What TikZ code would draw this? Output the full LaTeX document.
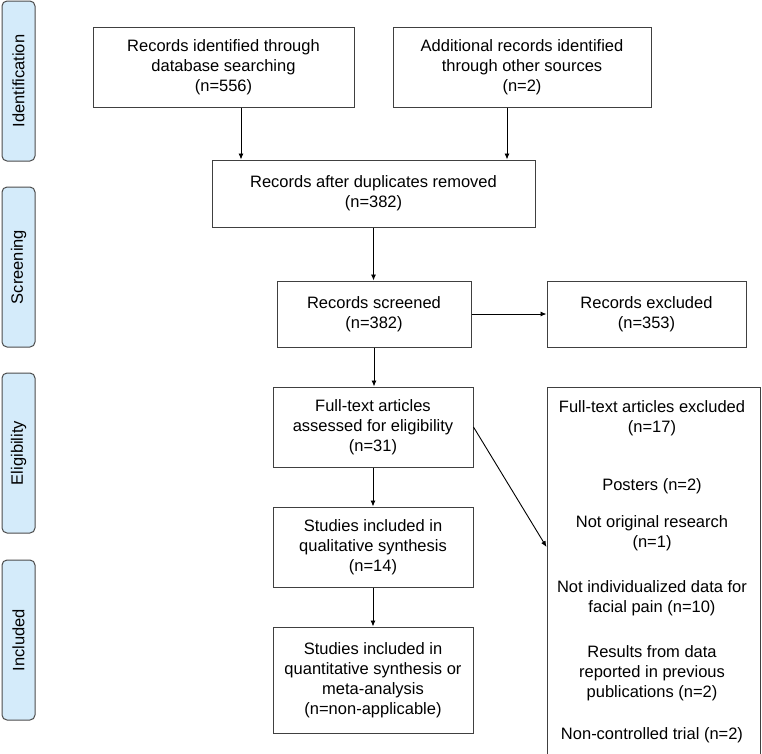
\documentclass[tikz,border=0pt]{standalone}
\usepackage{fontspec}
\setmainfont{Liberation Sans}
\usetikzlibrary{arrows.meta}

\definecolor{phasefill}{HTML}{D4EBFA}

\tikzset{
    box/.style={draw=black!75, line width=1pt, align=center, inner sep=0pt,
        font=\fontsize{16.5}{20}\selectfont},
    txt/.style={align=center, inner sep=0pt, font=\fontsize{16.5}{20}\selectfont},
    phase/.style={draw=black!70, fill=phasefill, rounded corners=5pt, line width=1pt,
        rotate=90, minimum width=160pt, minimum height=33pt, inner sep=0pt,
        font=\fontsize{16.5}{20}\selectfont},
    arr/.style={-{Latex[length=6pt,width=5pt]}, line width=0.9pt}
}

\begin{document}
\begin{tikzpicture}[x=1pt, y=-1pt]
        \useasboundingbox (0, 0) rectangle (762, 753);

        % phases
        \node[phase] (pid) at (18.5, 81) {Identification};
        \node[phase] (psc) at (18.5, 267) {Screening};
        \node[phase] (pel) at (18.5, 453) {Eligibility};
        \node[phase] (pin) at (18.5, 640) {Included};

        \node[box, minimum width=261pt, minimum height=80pt] (ident) at (223.5, 67)
            {Records identified through\\database searching\\(n=556)};
        \node[box, minimum width=258pt, minimum height=80pt] (other) at (522, 67)
            {Additional records identified\\through other sources\\(n=2)};
        \node[box, minimum width=323pt, minimum height=67pt] (dupl) at (373.5, 193.5)
            {Records after duplicates removed\\(n=382)};
        \node[box, minimum width=194pt, minimum height=66pt] (screen) at (374, 314)
            {Records screened\\(n=382)};
        \node[box, minimum width=199pt, minimum height=66pt] (excl) at (646.5, 314)
            {Records excluded\\(n=353)};
        \node[box, minimum width=200pt, minimum height=80pt] (full) at (373, 427)
            {Full-text articles\\assessed for eligibility\\(n=31)};
        \node[box, minimum width=200pt, minimum height=80pt] (qual) at (373, 547)
            {Studies included in\\qualitative synthesis\\(n=14)};
        \node[box, minimum width=200pt, minimum height=106pt] (quant) at (373, 680)
            {Studies included in\\quantitative synthesis or\\meta-analysis\\(n=non-applicable)};
        \node[box, minimum width=213pt, minimum height=373pt] (reasons) at (653.5, 573.5) {};

        \node[txt] (r1) at (652, 418) {Full-text articles excluded\\(n=17)};
        \node[txt] (r2) at (652, 486) {Posters (n=2)};
        \node[txt] (r3) at (652, 533.5) {Not original research\\(n=1)};
        \node[txt] (r4) at (652, 598) {Not individualized data for\\facial pain (n=10)};
        \node[txt] (r5) at (652, 673) {Results from data\\reported in previous\\publications (n=2)};
        \node[txt] (r6) at (652, 735) {Non-controlled trial (n=2)};

        \draw[arr] ([xshift=17.5pt]ident.south) -- ([xshift=17.5pt]ident.south |- dupl.north);
        \draw[arr] ([xshift=-15pt]other.south) -- ([xshift=-15pt]other.south |- dupl.north);
        \draw[arr] (dupl.south) -- (dupl.south |- screen.north);
        \draw[arr] (screen.east) -- (excl.west);
        \draw[arr] (screen.south) -- (screen.south |- full.north);
        \draw[arr] (full.south) -- (qual.north);
        \draw[arr] (qual.south) -- (quant.north);
        \draw[arr] (full.east) -- (reasons.west |- qual);
\end{tikzpicture}
\end{document}
